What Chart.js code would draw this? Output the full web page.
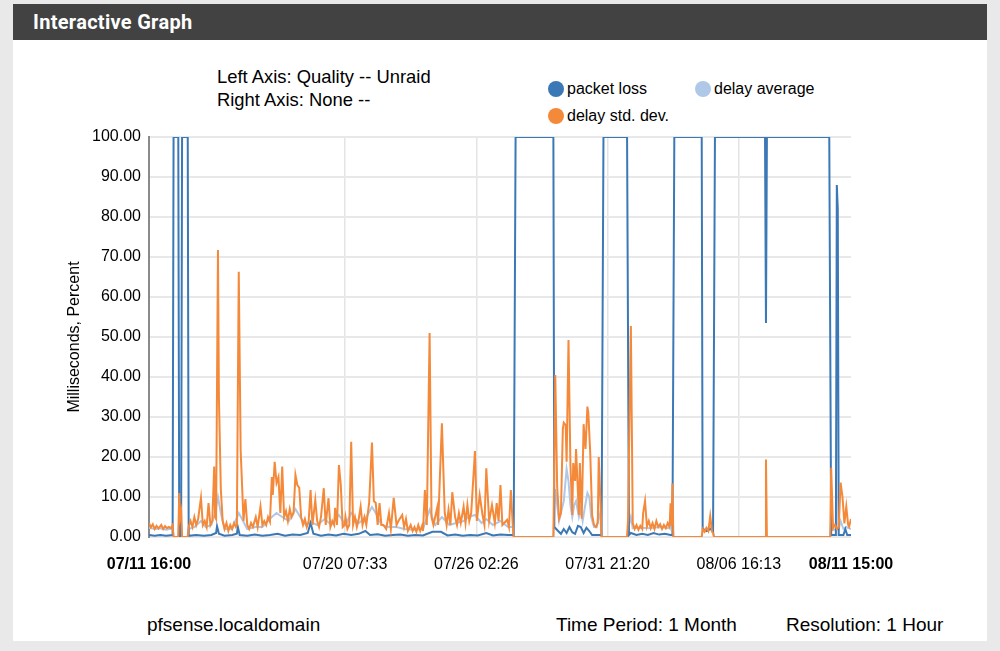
<!DOCTYPE html>
<html>
<head>
<meta charset="utf-8">
<title>Interactive Graph</title>
<script src="https://cdn.jsdelivr.net/npm/chart.js@4"></script>
<style>
  html, body { margin: 0; padding: 0; }
  body { width: 1000px; height: 651px; background: #e9e9e9; position: relative; overflow: hidden;
         font-family: "Liberation Sans", Arial, sans-serif; color: #000; }
  .panel { position: absolute; left: 13px; top: 4px; width: 974px; height: 637px; background: #fff; }
  .panel-head { height: 36px; background: #424242; color: #fff; font-family: Roboto, sans-serif;
                font-weight: 700; font-size: 20px; line-height: 36px; padding-left: 20px; letter-spacing: 0.3px; }
  #graph { position: absolute; left: 0; top: 0; }
  .axes-info { position: absolute; left: 217px; top: 65px; font-size: 18.4px; line-height: 23px; }
  .legend { position: absolute; left: 548px; top: 79px; font-size: 16px; width: 300px; }
  .legend span { position: absolute; white-space: nowrap; line-height: 20px; }
  .legend i { display: inline-block; width: 16px; height: 16px; border-radius: 50%;
              vertical-align: -3px; margin-right: 3px; }
  .footer { position: absolute; top: 613px; font-size: 19px; line-height: 24px; white-space: nowrap; }
</style>
</head>
<body>
<div class="panel"><div class="panel-head">Interactive Graph</div></div>
<div class="axes-info">Left Axis: Quality -- Unraid<br>Right Axis: None --</div>
<div class="legend" id="legend"></div>
<div class="footer" style="left:147px">pfsense.localdomain</div>
<div class="footer" style="left:556px">Time Period: 1 Month</div>
<div class="footer" style="left:786px">Resolution: 1 Hour</div>
<canvas id="graph" width="1000" height="651"></canvas>
<script>
// hours since 07/11 16:00, value
const packetLoss = [[0,0.5],[6,0.3],[12,0.5],[18,0.3],[25,0.5],[26,100],[31,100],[32,0],[34,0],[35,100],[41,100],
  [42,0.3],[50,0.5],[58,0.3],[66,0.5],[71,1.0],[72,2.7],[74,0.8],[80,0.3],[88,0.5],[93,0.8],[94,2.5],[96,0.5],
  [104,0.3],[112,0.6],[120,0.3],[128,0.5],[136,0.8],[144,0.3],[152,0.6],[160,0.5],[168,1.0],[171,3.5],[174,0.8],
  [182,0.3],[190,0.6],[198,0.4],[206,0.8],[214,0.5],[222,0.8],[229,1.5],[234,0.5],[242,0.7],[250,0.3],[258,0.5],
  [266,0.6],[274,0.3],[282,0.5],[290,0.4],[300,1.3],[309,1.3],[316,0.4],[324,0.6],[332,0.3],[340,0.5],[348,0.4],
  [357,1.0],[364,0.4],[372,0.6],[380,0.5],[386,0.5],[388,100],[428,100],[429,2.5],[433,1.5],[436,0.8],[439,2.0],
  [442,1.0],[445,2.5],[448,1.2],[451,0.8],[454,2.8],[457,2.5],[460,1.0],[463,2.3],[466,1.5],[469,0.5],[473,0.5],
  [477,0.5],[479,0.5],[481,100],[506,100],[508,0.5],[510,1.0],[516,0.5],[522,0.8],[528,0.5],[534,1.0],[540,0.6],
  [546,0.8],[552,0.5],[554,0.5],[556,100],[585,100],[586,2.0],[590,1.5],[594,2.0],[597,1.5],[599,100],[652,100],
  [653,53.5],[654,100],[720,100],[722,0.5],[727,0.5],[728,88],[729,82],[730,0.5],[735,0.5],[737,2.0],[739,0.5],[743,0.5]];

const delayAverage = [[0,2.3],[6,2.0],[12,2.2],[18,1.8],[25,2.2],[26,0],[31,0],[32,5],[34,3],[35,0],[41,0],[42,2.0],
  [48,2.5],[55,4],[60,2.5],[66,3],[70,6],[73,10],[76,6],[80,2.0],[88,2.0],[95,6],[98,4.7],[104,2.0],[112,2.5],
  [120,2.5],[130,5],[135,6],[141,5],[148,4],[155,7],[160,5],[166,3],[171,3.8],[178,3],[186,4.5],[193,3],[201,5.5],
  [208,3],[214,6],[222,3.5],[230,5],[236,7.5],[240,6],[246,3],[254,2.5],[262,2.5],[270,2.0],[280,1.8],[290,2.0],
  [297,6.8],[303,3],[310,5],[318,3],[325,3.5],[333,4],[338,5],[345,5.5],[352,3.5],[357,4.5],[364,3],[372,4],
  [380,2.5],[385,2.5],[386,0],[428,0],[430,12],[434,4],[439,9],[442,17],[444,14],[446,8],[448,5],[450,8],[452,9],
  [455,5],[457,7],[459,4],[461,7],[464,11],[466,10],[468,5],[471,2.5],[474,2.5],[476,6],[478,4],[479,0],[506,0],
  [507,2],[510,5],[512,2.2],[520,2.3],[530,2.2],[540,2.5],[550,2.2],[554,4],[555,0],[585,0],[586,1.8],[590,1.8],
  [594,2.5],[597,1.5],[598,0],[721,0],[722,4],[724,1.8],[730,2],[732,4],[735,2],[738,2.5],[743,2]];

const delayStdDev = [[0,3.5],[2,2.4],[4,3.2],[6,2.0],[8,2.8],[10,2.1],[13,3.0],[15,2.0],[17,2.7],[19,2.2],[21,2.5],
  [23,2.2],[25,3.0],[26,0],[31,0],[32,11],[33,5],[34,6.3],[35,0],[41,0],[42,2.6],[44,4.0],[46,2.5],[48,5.0],[50,3.0],
  [52,4.5],[55,9.8],[57,3.0],[59,4.0],[61,2.5],[63,8.5],[65,3.0],[67,4.0],[69,17.6],[70,5.0],[71,4.5],[73,71.75],
  [74,35],[76,12],[78,4.0],[80,2.0],[82,3.5],[84,1.5],[86,3.0],[88,2.0],[90,3.5],[92,2.5],[93,3.0],[95,66.3],
  [97,21.75],[99,10],[100,4],[102,9.5],[104,3],[106,2.0],[108,3.5],[110,2.5],[113,5.0],[115,2.5],[118,7.6],[120,3.0],
  [122,4.0],[124,3.0],[126,5.0],[128,3.8],[130,15],[131,10.5],[133,18.8],[135,13.5],[137,15],[139,6],[141,17.6],
  [143,5.0],[145,6.5],[147,4.0],[149,7.0],[151,5.0],[153,6.0],[155,15.5],[157,13],[159,12.3],[161,5.0],[163,3.0],
  [165,4.5],[167,2.5],[169,4.0],[171,11.75],[173,3.0],[176,9.25],[178,4.0],[180,2.5],[182,5.0],[185,12.2],[187,3.0],
  [190,9.7],[192,2.5],[194,4.0],[196,3.0],[197,7.3],[199,3.0],[201,18],[203,13],[205,2.5],[207,3.0],[208,5],
  [210,2.0],[212,3.0],[214,23.8],[216,3.0],[218,5.0],[220,2.5],[222,4.5],[224,7.6],[226,3.0],[228,5.0],[230,3.0],
  [233,8.5],[236,23.6],[238,9.0],[240,8.5],[242,3.0],[244,8.5],[246,3.0],[248,3.0],[251,2.0],[254,6.0],[256,2.0],
  [259,9.8],[262,3.0],[264,4.0],[268,5.5],[270,2.5],[272,4.5],[274,1.5],[277,3.0],[279,1.5],[281,2.5],[283,1.3],
  [285,3.0],[287,1.5],[289,2.8],[290,1.5],[292,11.75],[294,3.0],[297,51],[299,5],[301,3],[305,7.3],[306,3],
  [310,28.4],[313,6],[315,3],[317,6.8],[319,3],[321,11.2],[324,5],[326,3],[328,6],[330,3.5],[333,7.6],[335,3.5],
  [337,8],[339,4],[341,6],[345,21.5],[347,4],[350,10.5],[353,5.5],[355,3],[357,17.2],[360,4],[363,8],[366,3.5],
  [368,8.5],[370,4],[372,13],[374,3],[376,3.5],[379,4.3],[381,2.5],[383,11.75],[385,3],[386,0],[428,0],[430,40.5],
  [432,12.6],[434,4.6],[436,6],[438,27],[439,28.6],[441,28],[442,18.8],[444,49.25],[446,18.4],[448,5.5],[449,18.5],
  [451,14],[452,22],[455,5.5],[456,18.5],[458,4.6],[460,28.2],[462,22],[464,32.6],[465,31],[467,21],[469,5.5],
  [471,3],[473,2.5],[475,3.5],[476,20],[478,7.6],[479,0],[506,0],[507,4.3],[510,52.75],[512,3.5],[514,2],[516,3],
  [518,1.8],[520,2.8],[522,2.0],[523,6],[525,9],[527,2.6],[529,4],[531,2.2],[533,3.5],[535,2.0],[537,4.0],[539,2.5],
  [541,3.2],[543,2.0],[545,3.0],[547,2.2],[549,3.5],[551,2.5],[552,8.4],[553,3],[554,13.4],[555,0],[585,0],[586,2.0],
  [588,1.3],[590,2.3],[592,1.5],[594,5.25],[596,1.3],[597,1.0],[598,0],[652,0],[653,19.4],[654,0],[721,0],[722,17.3],
  [724,2.2],[726,3],[728,2],[730,2.5],[732,13.6],[734,10],[736,3.4],[738,7.6],[740,3],[741,2.6],[743,4.5]];

const seriesNames = ['packet loss', 'delay average', 'delay std. dev.'];
const seriesColors = ['#3b78b6', '#b0c8e8', '#f5893a'];

// x ticks: hours since start and their labels
const tickHours = [0, 207.55, 346.43, 485.33, 624.22, 743];
const tickLabels = ['07/11 16:00', '07/20 07:33', '07/26 02:26', '07/31 21:20', '08/06 16:13', '08/11 15:00'];

Chart.defaults.font.family = '"Liberation Sans", Arial, sans-serif';
Chart.defaults.color = '#000';

const toPoints = arr => arr.map(p => ({ x: p[0], y: p[1] }));
const seriesData = [packetLoss, delayAverage, delayStdDev];
const drawOrder = [1, 2, 0];

// legend, laid out like the original (two on first row, one below)
const legendEl = document.getElementById('legend');
const legendPos = [[0, 0], [147, 0], [0, 27]];
seriesNames.forEach((name, i) => {
  const s = document.createElement('span');
  s.style.left = legendPos[i][0] + 'px';
  s.style.top = legendPos[i][1] + 'px';
  s.innerHTML = '<i style="background:' + seriesColors[i] + '"></i>' + name;
  legendEl.appendChild(s);
});

new Chart(document.getElementById('graph'), {
  type: 'line',
  data: {
    datasets: seriesNames.map((name, i) => ({
      label: name,
      data: toPoints(seriesData[i]),
      borderColor: seriesColors[i],
      backgroundColor: seriesColors[i],
      borderWidth: 2,
      pointRadius: 0,
      tension: 0,
      fill: false,
      order: drawOrder[i]
    }))
  },
  options: {
    responsive: false,
    animation: false,
    events: [],
    layout: { padding: { left: 0, top: 137, right: 149, bottom: 0 } },
    plugins: { legend: { display: false }, tooltip: { enabled: false } },
    scales: {
      x: {
        type: 'linear',
        min: 0,
        max: 743,
        afterFit: s => { s.height = 651 - 537; },
        afterBuildTicks: s => { s.ticks = tickHours.map(v => ({ value: v })); },
        grid: {
          drawTicks: false,
          lineWidth: 1.5,
          color: ctx => (ctx.index === 0 || ctx.index === tickHours.length - 1) ? 'rgba(0,0,0,0)' : '#e4e4e4'
        },
        border: { display: false },
        ticks: {
          padding: 18,
          maxRotation: 0,
          autoSkip: false,
          callback: (v, i) => tickLabels[i],
          font: ctx => ({ size: 16, weight: (ctx.index === 0 || ctx.index === tickLabels.length - 1) ? 'bold' : 'normal' })
        }
      },
      y: {
        min: 0,
        max: 100,
        afterFit: s => { s.width = 149; },
        grid: { drawTicks: false, color: '#e8e8e8', lineWidth: 2 },
        border: { display: true, color: '#8a8a8a', width: 2 },
        ticks: { stepSize: 10, padding: 8, font: { size: 16 }, callback: v => v.toFixed(2) },
        title: { display: true, text: 'Milliseconds, Percent', font: { size: 16 }, padding: { top: 65, bottom: 0 } }
      }
    }
  }
});
</script>
</body>
</html>
